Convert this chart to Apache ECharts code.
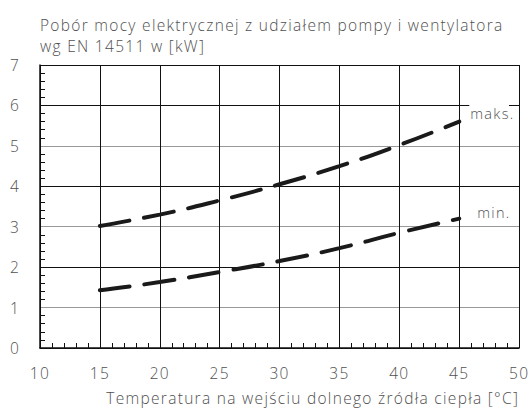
<!DOCTYPE html>
<html>
<head>
<meta charset="utf-8">
<script src="https://cdn.jsdelivr.net/npm/echarts@6/dist/echarts.min.js"></script>
<style>
  html, body { margin: 0; padding: 0; background: #fff; }
  #chart { width: 531px; height: 414px; }
  #chart svg text { letter-spacing: 1.3px; }
</style>
</head>
<body>
<div id="chart"></div>
<script>
var temps = [15, 20, 25, 30, 35, 40, 45];
var maksValues = [3.02, 3.3, 3.65, 4.05, 4.5, 5.02, 5.6];
var minValues = [1.43, 1.63, 1.88, 2.15, 2.47, 2.85, 3.2];
var xTicks = [10, 15, 20, 25, 30, 35, 40, 45, 50];
var yTicks = [0, 1, 2, 3, 4, 5, 6, 7];

var font = '"Open Sans", "DejaVu Sans", sans-serif';
var textColor = '#505050';

function pairs(xs, ys) {
  return xs.map(function (x, i) { return [x, ys[i]]; });
}

var myChart = echarts.init(document.getElementById('chart'), null, { renderer: 'svg' });
var option = {
  animation: false,
  title: {
    text: 'Pobór mocy elektrycznej z udziałem pompy i wentylatora\nwg EN 14511 w [kW]',
    left: 35,
    top: 9,
    textStyle: { fontFamily: font, fontSize: 15.5, fontWeight: 300, color: textColor, lineHeight: 21 }
  },
  grid: { left: 40, right: 10, top: 65, bottom: 66 },
  xAxis: {
    type: 'value',
    min: xTicks[0],
    max: xTicks[xTicks.length - 1],
    interval: 5,
    name: 'Temperatura na wejściu dolnego źródła ciepła [°C]',
    nameLocation: 'end',
    nameGap: 0,
    nameTextStyle: {
      fontFamily: font, fontSize: 15.5, fontWeight: 300, color: textColor,
      align: 'right', verticalAlign: 'top', padding: [42, 0, 0, 0]
    },
    axisLine: { lineStyle: { color: '#111', width: 1.5 } },
    axisTick: { show: false, inside: true },
    minorTick: { show: true, splitNumber: 5, length: 5, lineStyle: { color: '#111', width: 1 } },
    axisLabel: { fontFamily: font, fontSize: 15.5, fontWeight: 300, color: textColor, margin: 17 },
    splitLine: { show: true, lineStyle: { color: '#111', width: 1 } }
  },
  yAxis: {
    type: 'value',
    min: yTicks[0],
    max: yTicks[yTicks.length - 1],
    interval: 1,
    axisLine: { show: true, lineStyle: { color: '#111', width: 1.5 } },
    axisTick: { show: false, inside: true },
    minorTick: { show: true, splitNumber: 5, length: 5, lineStyle: { color: '#111', width: 1 } },
    axisLabel: { fontFamily: font, fontSize: 15.5, fontWeight: 300, color: textColor, margin: 30, align: 'left',
      formatter: function (v) { return v; } },
    splitLine: { show: true, lineStyle: { color: ['#111', '#999', '#111', '#999', '#111', '#999', '#111', '#111'], width: 1 } }
  },
  series: [
    {
      name: 'maks.',
      type: 'line',
      smooth: true,
      symbol: 'none',
      data: pairs(temps, maksValues),
      lineStyle: { color: '#1a1a1a', width: 4, type: [30, 15], cap: 'round' },
      endLabel: {
        show: true, formatter: 'maks.', fontFamily: font, fontSize: 14.5, fontWeight: 300, color: textColor,
        backgroundColor: '#fff', padding: [1, 1, 1, 1], offset: [2, -8]
      }
    },
    {
      name: 'min.',
      type: 'line',
      smooth: true,
      symbol: 'none',
      data: pairs(temps, minValues),
      lineStyle: { color: '#1a1a1a', width: 4, type: [30, 15], cap: 'round' },
      endLabel: {
        show: true, formatter: 'min.', fontFamily: font, fontSize: 14.5, fontWeight: 300, color: textColor,
        offset: [10, -6]
      }
    }
  ]
};
myChart.setOption(option);
</script>
</body>
</html>
